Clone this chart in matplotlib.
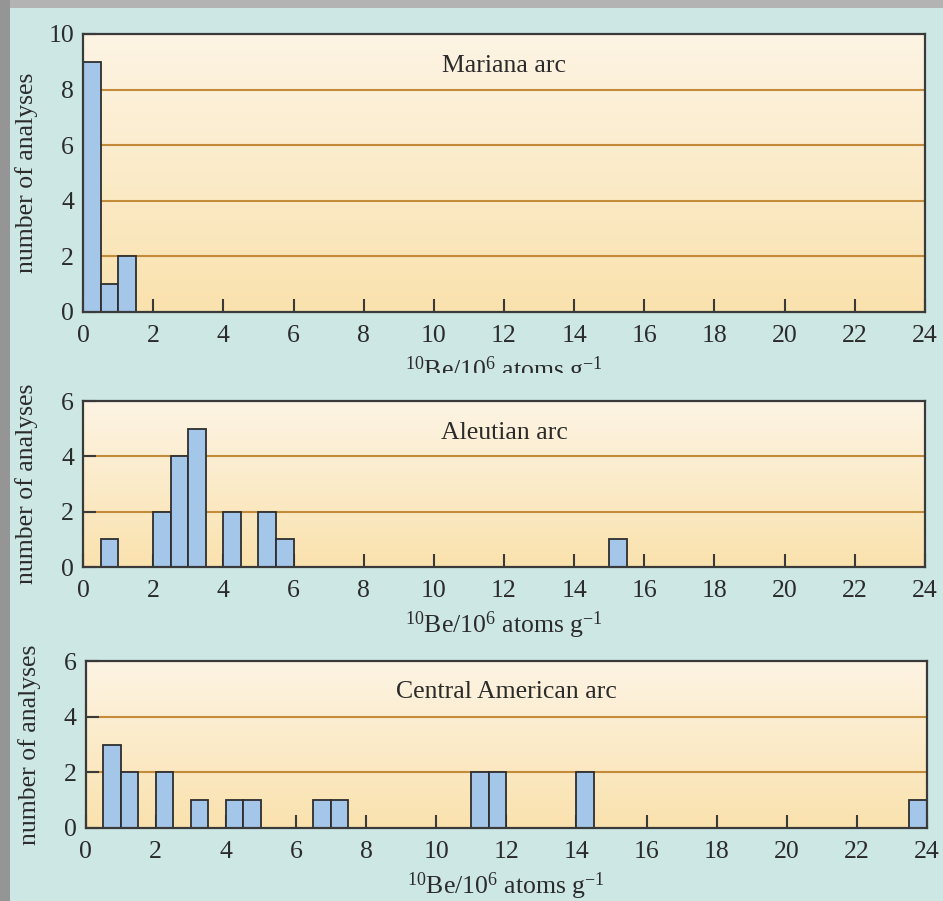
import numpy as np
import matplotlib
matplotlib.use("Agg")
import matplotlib.pyplot as plt
from matplotlib.patches import Rectangle
from matplotlib.colors import LinearSegmentedColormap

plt.rcParams['font.family'] = ['Liberation Serif', 'DejaVu Serif']
plt.rcParams['mathtext.fontset'] = 'custom'
plt.rcParams['mathtext.rm'] = 'Liberation Serif'
plt.rcParams['mathtext.it'] = 'Liberation Serif:italic'
plt.rcParams['mathtext.bf'] = 'Liberation Serif:bold'

# 10Be histograms, 0.5 bin width (left bin edges and counts)
bin_width = 0.5
arc_names = ["Mariana arc", "Aleutian arc", "Central American arc"]
mariana_left = [0.0, 0.5, 1.0]
mariana_counts = [9, 1, 2]
aleutian_left = [0.5, 2.0, 2.5, 3.0, 4.0, 5.0, 5.5, 15.0]
aleutian_counts = [1, 2, 4, 5, 2, 2, 1, 1]
central_left = [0.5, 1.0, 2.0, 3.0, 4.0, 4.5, 6.5, 7.0, 11.0, 11.5, 14.0, 23.5]
central_counts = [3, 2, 2, 1, 1, 1, 1, 1, 2, 2, 2, 1]
y_max = [10, 6, 6]
x_ticks = list(range(0, 25, 2))
x_label = r"$^{10}$Be/10$^{6}$ atoms g$^{-1}$"
y_label = "number of analyses"

W, H = 943, 901
teal = "#cde7e4"
fig = plt.figure(figsize=(W / 100, H / 100), dpi=100)
fig.patch.set_facecolor("#b3b3b3")

# frame: grey border strips and pale teal card
fig.patches.append(Rectangle((0, 0), 10 / W, 1, transform=fig.transFigure,
                             facecolor="#959595", edgecolor="none", zorder=-10))
fig.patches.append(Rectangle((10 / W, 0), 1, (H - 8) / H, transform=fig.transFigure,
                             facecolor=teal, edgecolor="none", zorder=-10))

def px_rect(left, top, right, bottom):
    return [left / W, (H - bottom) / H, (right - left) / W, (bottom - top) / H]

rects = [px_rect(83, 34, 925, 312), px_rect(83, 401, 925, 567), px_rect(85.5, 661, 927, 828)]
data = [(mariana_left, mariana_counts), (aleutian_left, aleutian_counts),
        (central_left, central_counts)]

bg_cmap = LinearSegmentedColormap.from_list("cream", ["#fae2ae", "#fdf4e4"])
grad = np.linspace(0, 1, 256).reshape(-1, 1)
text_col = "#2b2b2b"
spine_col = "#3a3a3a"

axes = []
for i, (rect, (lefts, counts)) in enumerate(zip(rects, data)):
    ax = fig.add_axes(rect)
    ax.set_zorder(0 if i == 0 else 2)
    axes.append(ax)
    ax.set_xlim(0, 24)
    ax.set_ylim(0, y_max[i])
    ax.patch.set_visible(False)
    ax.imshow(grad, cmap=bg_cmap, origin="lower", aspect="auto",
              extent=[0, 1, 0, 1], transform=ax.transAxes, zorder=0)
    yt = list(range(0, y_max[i] + 1, 2))
    for yv in yt[1:-1]:
        ax.axhline(yv, color="#c48b3b", lw=1.5, zorder=1)
    ax.bar(lefts, counts, width=bin_width, align="edge", color="#a4c6e9",
           edgecolor="#2e2e2e", linewidth=1.3, zorder=3)
    ax.set_xticks(x_ticks)
    ax.set_yticks(yt)
    ax.tick_params(direction="in", length=9.5, width=1.5, color=spine_col,
                   labelsize=18.5, labelcolor=text_col)
    ax.tick_params(axis="x", pad=9.5)
    ax.tick_params(axis="y", pad=6.5)
    for s in ax.spines.values():
        s.set_color(spine_col)
        s.set_linewidth(1.6)
        s.set_zorder(4)
    ax.set_xlabel(x_label, fontsize=18.5, color=text_col, labelpad=5)
    ax.set_ylabel(y_label, fontsize=18.5, color=text_col)
    ax.yaxis.set_label_coords(-0.053, 0.5)
    ax.annotate(arc_names[i], xy=(0.5, 1), xycoords="axes fraction",
                xytext=(0, -27), textcoords="offset points", ha="center",
                va="baseline", fontsize=18.5, color=text_col)

# the middle panel's card overlaps the bottom of the top panel's axis label
fig.add_artist(Rectangle((10 / W, (H - 398) / H), 1, 25 / H, transform=fig.transFigure,
                         facecolor=teal, edgecolor="none", zorder=1))

fig.savefig("out.png", dpi=100, facecolor=fig.get_facecolor())
